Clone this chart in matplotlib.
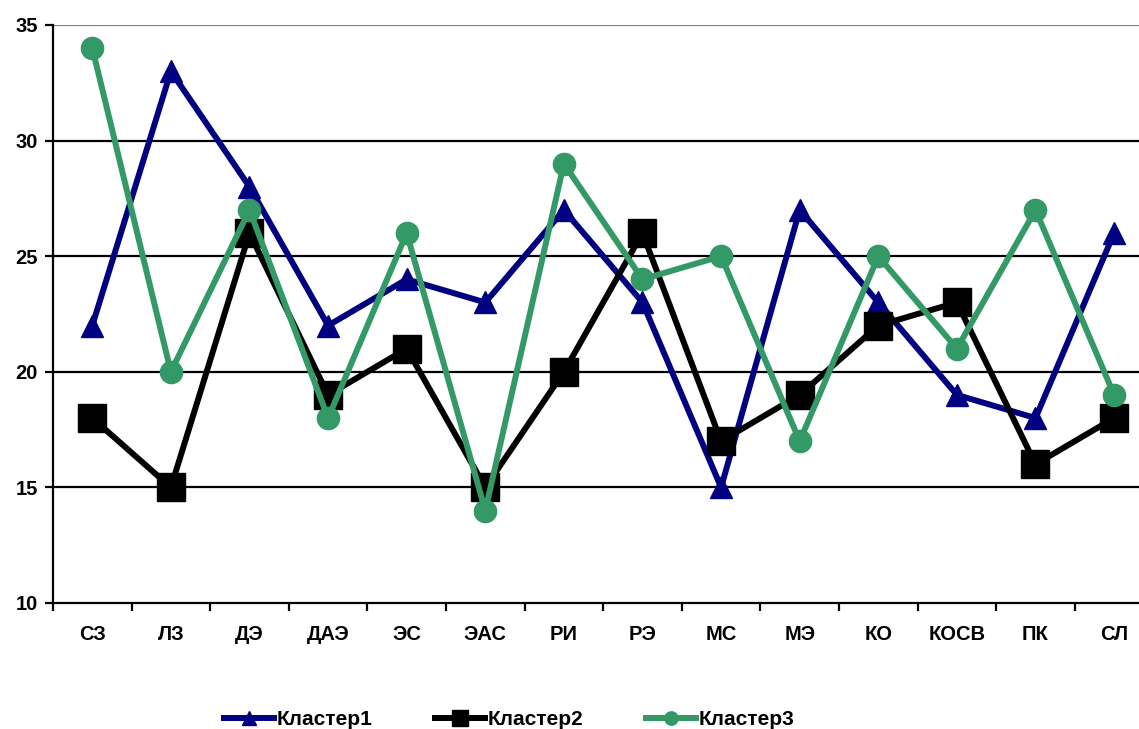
import matplotlib.pyplot as plt
import numpy as np

plt.rcParams['font.family'] = ['Liberation Sans', 'DejaVu Sans']
plt.rcParams['font.weight'] = 'bold'

categories = ['СЗ', 'ЛЗ', 'ДЭ', 'ДАЭ', 'ЭС', 'ЭАС', 'РИ', 'РЭ', 'МС', 'МЭ', 'КО', 'КОСВ', 'ПК', 'СЛ']
cluster1 = [22, 33, 28, 22, 24, 23, 27, 23, 15, 27, 23, 19, 18, 26]
cluster2 = [18, 15, 26, 19, 21, 15, 20, 26, 17, 19, 22, 23, 16, 18]
cluster3 = [34, 20, 27, 18, 26, 14, 29, 24, 25, 17, 25, 21, 27, 19]
y_ticks = [10, 15, 20, 25, 30, 35]

fig = plt.figure(figsize=(11.39, 7.29), dpi=100)
ax = fig.add_axes([53 / 1139, 1 - 603 / 729, 14 * 78.6 / 1139, 578 / 729])

x = np.arange(len(categories))

# сетка
for yv in y_ticks[1:]:
    c = '#808080' if yv == 35 else 'black'
    ax.axhline(yv, color=c, lw=1.6, zorder=1)

ax.plot(x, cluster1, color='#000080', lw=4.3, marker='^', ms=16, label='Кластер1', zorder=3)
ax.plot(x, cluster2, color='black', lw=4.3, marker='s', ms=20, label='Кластер2', zorder=4)
ax.plot(x, cluster3, color='#339966', lw=4.3, marker='o', ms=16, label='Кластер3', zorder=5)

ax.set_xlim(-0.5, len(categories) - 0.5)
ax.set_ylim(10, 35)
ax.set_yticks(y_ticks)
ax.set_yticklabels([str(v) for v in y_ticks], fontsize=14.5, fontweight='bold')
ax.set_xticks(x)
ax.set_xticklabels(categories, fontsize=14.5, fontweight='bold')
ax.set_xticks(np.arange(len(categories) + 1) - 0.5, minor=True)
ax.tick_params(axis='x', which='major', length=0, pad=16)
ax.tick_params(axis='x', which='minor', length=6, width=1.6, direction='out')
ax.tick_params(axis='y', length=6, width=1.6, direction='out', pad=5)

for s in ['top', 'right']:
    ax.spines[s].set_visible(False)
for s in ['left', 'bottom']:
    ax.spines[s].set_linewidth(1.6)

fig.legend(loc='center', bbox_to_anchor=(0.447, 0.013), ncol=3, frameon=False,
           handlelength=2.4, handletextpad=0.12, columnspacing=3.0,
           markerscale=0.6, prop={'weight': 'bold', 'size': 15})

fig.savefig('out.png', dpi=100)
